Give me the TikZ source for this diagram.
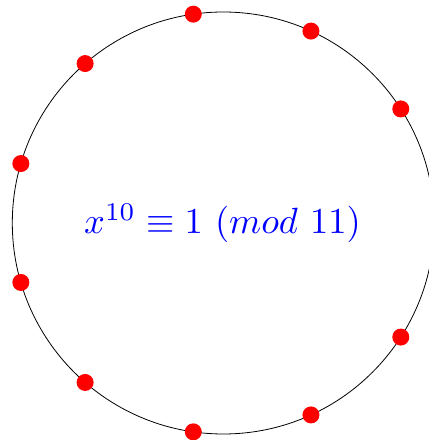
\documentclass[tikz,border=0pt]{standalone}
\usetikzlibrary{calc}
\begin{document}
\begin{tikzpicture}[x=1pt,y=1pt,
  ring/.style={draw=black,line width=0.8pt},
  rootdot/.style={circle,fill=red,inner sep=0pt,minimum size=17pt},
  eqlabel/.style={text=blue,anchor=base,inner sep=0pt}]
\useasboundingbox (0,0) rectangle (429,440);
\begin{scope}
\clip (0,0) rectangle (429,440);
\coordinate (c) at (223.3,217);
\node[ring,circle,minimum size=422pt,inner sep=0pt] (ring) at (c) {};
\foreach \k in {1,...,10}{
  \node[rootdot] (d\k) at ($(c)+({360/11*\k}:211)$) {};
}
\end{scope}
\node[eqlabel] (eq) at (222.5,206) {\scalebox{3.65}{$x^{10}\equiv 1\ (mod\ 11)$}};
\end{tikzpicture}
\end{document}
